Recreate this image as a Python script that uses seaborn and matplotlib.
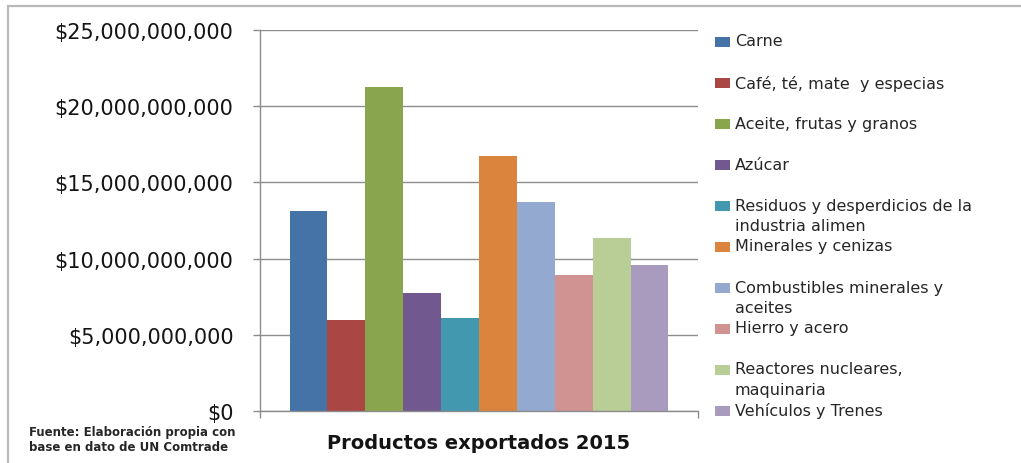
import matplotlib
matplotlib.use("Agg")
import matplotlib.pyplot as plt
import matplotlib.ticker as mticker
from matplotlib.patches import Rectangle
import pandas as pd
import seaborn as sns

# Export values by product group, 2015 (USD)
productos = [
    "Carne",
    "Café, té, mate  y especias",
    "Aceite, frutas y granos",
    "Azúcar",
    "Residuos y desperdicios de la\nindustria alimen",
    "Minerales y cenizas",
    "Combustibles minerales y\naceites",
    "Hierro y acero",
    "Reactores nucleares,\nmaquinaria",
    "Vehículos y Trenes",
]
valores = [13.1e9, 6.0e9, 21.25e9, 7.75e9, 6.1e9, 16.7e9, 13.7e9, 8.9e9, 11.35e9, 9.55e9]
grupo = "Productos exportados 2015"
fuente = "Fuente: Elaboración propia con\nbase en dato de UN Comtrade"

colores = ["#4572A7", "#AA4643", "#89A54E", "#71588F", "#4198AF",
           "#DB843D", "#93A9CF", "#D19392", "#B9CD96", "#A99BBD"]

df = pd.DataFrame({"grupo": [grupo] * len(productos),
                   "producto": productos,
                   "valor": valores})

sns.set_theme(style="white")
plt.rcParams["font.family"] = ["DejaVu Sans"]

W, H = 1021, 464
fig = plt.figure(figsize=(W / 100, H / 100), dpi=100)
fig.patch.set_facecolor("white")

# chart frame
fig.patches.append(Rectangle((8 / W, -0.1), 1.2, 1 - 7 / H + 0.1,
                             transform=fig.transFigure, fill=False,
                             edgecolor="#b8b8b8", linewidth=1.6))

left, right, bottom, top = 260 / W, 698 / W, 1 - 412 / H, 1 - 31 / H
ax = fig.add_axes([left, bottom, right - left, top - bottom])

sns.barplot(data=df, x="grupo", y="valor", hue="producto", hue_order=productos,
            palette=colores, width=0.865, saturation=1, legend=False,
            linewidth=0, edgecolor="none", ax=ax)

ax.set_xlim(-0.5, 0.5)
ax.set_ylim(0, 25e9)
ax.set_yticks([0, 5e9, 10e9, 15e9, 20e9, 25e9])
ax.yaxis.set_major_formatter(mticker.FuncFormatter(lambda v, p: "${:,.0f}".format(v)))
ax.grid(axis="y", color="#8c8c8c", linewidth=1)
ax.set_axisbelow(True)
ax.set_xlabel("")
ax.set_ylabel("")

for s in ["top", "right"]:
    ax.spines[s].set_visible(False)
for s in ["left", "bottom"]:
    ax.spines[s].set_color("#8c8c8c")
    ax.spines[s].set_linewidth(1)

ax.tick_params(axis="y", direction="out", length=5, width=1, color="#8c8c8c",
               pad=14, labelsize=15, labelcolor="#141414", left=True)
ax.tick_params(axis="x", which="major", length=0, pad=16, labelsize=14,
               labelcolor="#141414")
for t in ax.get_xticklabels():
    t.set_fontweight("bold")
ax.set_xticks([-0.5, 0.5], minor=True)
ax.tick_params(axis="x", which="minor", direction="out", length=5, width=1,
               color="#8c8c8c", bottom=True)

# legend entries, one slot per product
y0, step = 42.5, 41.0
for i, (lab, col) in enumerate(zip(productos, colores)):
    yc = y0 + i * step
    fig.patches.append(Rectangle((715 / W, 1 - (yc + 5) / H), 15 / W, 10 / H,
                                 transform=fig.transFigure, facecolor=col,
                                 edgecolor="none"))
    fig.text(735 / W, 1 - (yc - 8) / H, lab, ha="left", va="top",
             fontsize=11.5, color="#262626", linespacing=1.45)

fig.text(29 / W, 1 - 426 / H, fuente, ha="left", va="top", fontsize=8.5,
         fontweight="bold", color="#262626", linespacing=1.2)

fig.savefig("out.png", dpi=100)
